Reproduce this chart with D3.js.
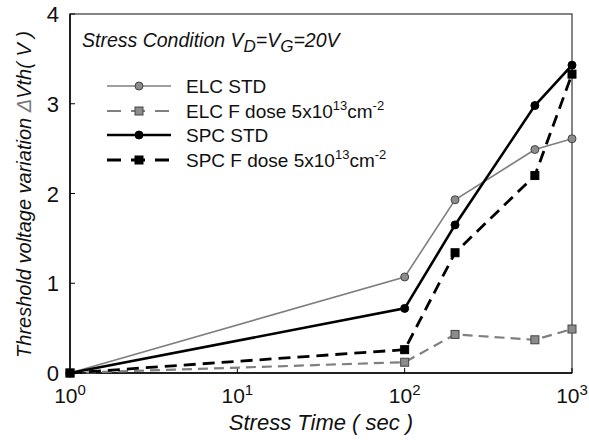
<!DOCTYPE html>
<html>
<head>
<meta charset="utf-8">
<script src="https://cdn.jsdelivr.net/npm/d3@7/dist/d3.min.js"></script>
<style>
  body { margin: 0; background: #fff; }
  svg { font-family: "Liberation Sans", Arial, sans-serif; }
</style>
</head>
<body>
<div id="canvas"></div>
<script>
// Data
var times = [1, 100, 200, 600, 1000];
var elcStd = [0, 1.07, 1.93, 2.49, 2.61];
var elcF = [0, 0.12, 0.43, 0.37, 0.49];
var spcStd = [0, 0.72, 1.65, 2.98, 3.43];
var spcF = [0, 0.26, 1.34, 2.2, 3.33];
var yTicks = [0, 1, 2, 3, 4];
var xTicks = [1, 10, 100, 1000];

var series = [
  { name: 'ELC STD', values: elcStd, color: '#7f7f7f', fill: '#8c8c8c', width: 1.6, dash: null, marker: 'circle' },
  { name: 'ELC F dose 5x10', values: elcF, color: '#7f7f7f', fill: '#8c8c8c', width: 2.2, dash: '10,6', marker: 'square' },
  { name: 'SPC STD', values: spcStd, color: '#000', fill: '#000', width: 2.6, dash: null, marker: 'circle' },
  { name: 'SPC F dose 5x10', values: spcF, color: '#000', fill: '#000', width: 2.8, dash: '12,7', marker: 'square' }
];

(function() {
  var W = 589, H = 440,
    pLeft = 70, pRight = 572, pTop = 14, pBottom = 373;

  var svg = d3.select('#canvas').append('svg').attr('width', W).attr('height', H);

  var x = d3.scaleLog().domain([1, 1000]).range([pLeft, pRight]);
  var y = d3.scaleLinear().domain([0, 4]).range([pBottom, pTop]);

  // Frame
  svg.append('rect')
    .attr('x', pLeft).attr('y', pTop)
    .attr('width', pRight - pLeft).attr('height', pBottom - pTop)
    .attr('fill', 'none').attr('stroke', '#444').attr('stroke-width', 1.3);
  svg.append('line').attr('x1', pLeft).attr('x2', pLeft).attr('y1', pTop).attr('y2', pBottom)
    .attr('stroke', '#000').attr('stroke-width', 1.5);
  svg.append('line').attr('x1', pLeft).attr('x2', pRight).attr('y1', pBottom).attr('y2', pBottom)
    .attr('stroke', '#000').attr('stroke-width', 1.5);

  // Ticks (inward)
  svg.append('g').selectAll('line').data(yTicks).join('line')
    .attr('x1', pLeft).attr('x2', pLeft + 5)
    .attr('y1', function(d) { return y(d); }).attr('y2', function(d) { return y(d); })
    .attr('stroke', '#000');
  svg.append('g').selectAll('line').data(xTicks).join('line')
    .attr('x1', function(d) { return x(d); }).attr('x2', function(d) { return x(d); })
    .attr('y1', pBottom).attr('y2', pBottom - 5)
    .attr('stroke', '#000');

  // Tick labels
  svg.append('g').selectAll('text').data(yTicks).join('text')
    .attr('x', pLeft - 11).attr('y', function(d) { return y(d) + 8; })
    .attr('text-anchor', 'end').attr('font-size', 22).attr('fill', '#111')
    .text(function(d) { return d; });
  var xl = svg.append('g').selectAll('text').data(xTicks).join('text')
    .attr('x', function(d) { return x(d); }).attr('y', 403)
    .attr('text-anchor', 'middle').attr('font-size', 21).attr('fill', '#111');
  xl.append('tspan').text('10');
  xl.append('tspan').attr('dy', -8).attr('font-size', 15)
    .text(function(d) { return Math.round(Math.log10(d)); });

  // Axis titles
  svg.append('text')
    .attr('x', 321).attr('y', 430).attr('text-anchor', 'middle')
    .attr('font-size', 22).attr('font-style', 'italic').attr('fill', '#111')
    .text('Stress Time ( sec )');
  var yt = svg.append('text')
    .attr('transform', 'translate(31,' + ((pTop + pBottom) / 2 + 1) + ') rotate(-90)')
    .attr('text-anchor', 'middle').attr('font-size', 20).attr('font-style', 'italic').attr('fill', '#111');
  yt.append('tspan').text('Threshold voltage variation ');
  yt.append('tspan').attr('fill', '#777').text('\u0394');
  yt.append('tspan').text('Vth( V )');

  // Condition label
  var cond = svg.append('text').attr('x', 82).attr('y', 47)
    .attr('font-size', 19.5).attr('font-style', 'italic').attr('fill', '#111');
  cond.append('tspan').text('Stress Condition V');
  cond.append('tspan').attr('dy', 5).attr('font-size', 17).text('D');
  cond.append('tspan').attr('dy', -5).text('=V');
  cond.append('tspan').attr('dy', 5).attr('font-size', 17).text('G');
  cond.append('tspan').attr('dy', -5).text('=20V');

  // Lines and markers
  var line = d3.line()
    .x(function(d, i) { return x(times[i]); })
    .y(function(d) { return y(d); });

  function marker(g, s, cx, cy, size) {
    var stroke = s.color === '#000' ? '#000' : '#444';
    if (s.marker === 'circle') {
      g.append('circle').attr('cx', cx).attr('cy', cy).attr('r', size / 2)
        .attr('fill', s.fill).attr('stroke', stroke).attr('stroke-width', 1);
    } else {
      g.append('rect').attr('x', cx - size / 2).attr('y', cy - size / 2)
        .attr('width', size).attr('height', size)
        .attr('fill', s.fill).attr('stroke', stroke).attr('stroke-width', 1);
    }
  }

  series.forEach(function(s) {
    var g = svg.append('g');
    g.append('path').datum(s.values)
      .attr('d', line).attr('fill', 'none')
      .attr('stroke', s.color).attr('stroke-width', s.width)
      .attr('stroke-dasharray', s.dash);
    s.values.forEach(function(v, i) {
      marker(g, s, x(times[i]), y(v), 8);
    });
  });

  // Legend
  var legendY = [86, 111, 135, 160];
  series.forEach(function(s, i) {
    var g = svg.append('g');
    g.append('line').attr('x1', 107).attr('x2', 171)
      .attr('y1', legendY[i]).attr('y2', legendY[i])
      .attr('stroke', s.color).attr('stroke-width', s.width)
      .attr('stroke-dasharray', s.dash ? '14,10' : null);
    marker(g, s, 139, legendY[i], 8);
    var t = g.append('text').attr('x', 186).attr('y', legendY[i] + 7)
      .attr('font-size', 19).attr('fill', '#111');
    t.append('tspan').text(s.name);
    if (s.dash) {
      t.append('tspan').attr('dy', -8).attr('font-size', 13).text('13');
      t.append('tspan').attr('dy', 8).text('cm');
      t.append('tspan').attr('dy', -8).attr('font-size', 13).text('-2');
    }
  });
})();
</script>
</body>
</html>
